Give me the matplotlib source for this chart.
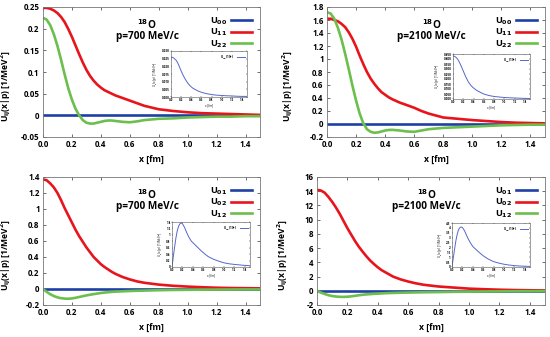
import numpy as np
import matplotlib
matplotlib.use('Agg')
import matplotlib.pyplot as plt

plt.rcParams['font.family'] = ['Open Sans', 'DejaVu Sans']
plt.rcParams['font.weight'] = 'bold'
plt.rcParams['mathtext.default'] = 'bf'

# ---- data ----
x = [0.0, 0.025, 0.05, 0.075, 0.1, 0.125, 0.15, 0.175, 0.2, 0.225, 0.25, 0.275, 0.3, 0.325, 0.35, 0.375,
     0.4, 0.425, 0.45, 0.475, 0.5, 0.55, 0.6, 0.65, 0.7, 0.8, 0.9, 1.0, 1.1, 1.2, 1.3, 1.4, 1.5]

# p=700 MeV/c, diagonal
u00_700 = [0.0] * 33
u11_700 = [0.248, 0.248, 0.246, 0.242, 0.236, 0.227, 0.215, 0.199, 0.181, 0.161, 0.141, 0.122, 0.105, 0.091, 0.080, 0.071,
           0.064, 0.058, 0.054, 0.050, 0.046, 0.040, 0.034, 0.028, 0.022, 0.014, 0.010, 0.007, 0.005, 0.004, 0.003, 0.002, 0.001]
u22_700 = [0.225, 0.221, 0.208, 0.187, 0.160, 0.128, 0.094, 0.062, 0.036, 0.015, 0.0, -0.011, -0.017, -0.019, -0.019, -0.017,
           -0.015, -0.013, -0.012, -0.012, -0.013, -0.015, -0.016, -0.014, -0.011, -0.008, -0.007, -0.005, -0.004, -0.003, -0.003, -0.002, -0.002]

# p=2100 MeV/c, diagonal
u00_2100 = [0.0] * 33
u11_2100 = [1.62, 1.62, 1.60, 1.58, 1.54, 1.49, 1.41, 1.31, 1.19, 1.05, 0.92, 0.80, 0.70, 0.62, 0.55, 0.49,
            0.45, 0.41, 0.38, 0.355, 0.33, 0.29, 0.25, 0.20, 0.16, 0.10, 0.08, 0.06, 0.045, 0.03, 0.02, 0.015, 0.01]
u22_2100 = [1.72, 1.70, 1.62, 1.48, 1.30, 1.08, 0.84, 0.59, 0.36, 0.16, 0.01, -0.08, -0.12, -0.135, -0.13, -0.115,
            -0.10, -0.092, -0.09, -0.095, -0.10, -0.115, -0.12, -0.10, -0.08, -0.06, -0.05, -0.04, -0.03, -0.02, -0.015, -0.01, -0.01]

# p=700 MeV/c, off-diagonal
u01_700 = [0.0] * 33
u02_700 = [1.37, 1.36, 1.32, 1.27, 1.20, 1.11, 1.01, 0.92, 0.83, 0.74, 0.66, 0.59, 0.52, 0.46, 0.40, 0.355,
           0.31, 0.275, 0.245, 0.215, 0.19, 0.15, 0.12, 0.095, 0.078, 0.055, 0.04, 0.03, 0.022, 0.016, 0.012, 0.01, 0.008]
u12_700 = [0.0, -0.035, -0.065, -0.088, -0.105, -0.115, -0.12, -0.122, -0.118, -0.11, -0.10, -0.09, -0.08, -0.072, -0.064, -0.057,
           -0.05, -0.045, -0.04, -0.036, -0.033, -0.029, -0.025, -0.022, -0.02, -0.015, -0.012, -0.01, -0.008, -0.007, -0.006, -0.005, -0.005]

# p=2100 MeV/c, off-diagonal
u01_2100 = [0.0] * 33
u02_2100 = [14.2, 14.1, 13.8, 13.2, 12.5, 11.7, 10.8, 9.8, 8.8, 7.9, 7.0, 6.2, 5.5, 4.85, 4.25, 3.75,
            3.3, 2.9, 2.6, 2.3, 2.0, 1.6, 1.3, 1.05, 0.85, 0.6, 0.45, 0.3, 0.22, 0.15, 0.1, 0.07, 0.05]
u12_2100 = [0.0, -0.25, -0.45, -0.62, -0.74, -0.81, -0.85, -0.86, -0.84, -0.78, -0.71, -0.63, -0.56, -0.51, -0.47, -0.43,
            -0.40, -0.37, -0.34, -0.32, -0.30, -0.27, -0.25, -0.23, -0.21, -0.18, -0.15, -0.12, -0.1, -0.08, -0.07, -0.06, -0.05]

# insets (blue curves, magnified)
in1 = [0.026, 0.0259, 0.0255, 0.0248, 0.024, 0.0227, 0.021, 0.019, 0.017, 0.0152, 0.0135, 0.012, 0.0106, 0.0094, 0.0083, 0.0074,
       0.0066, 0.0059, 0.0054, 0.0049, 0.0045, 0.0037, 0.0031, 0.0026, 0.0022, 0.0016, 0.0012, 0.001, 0.0008, 0.0007, 0.0005, 0.0004, 0.0004]
in2 = [0.43, 0.428, 0.42, 0.408, 0.39, 0.367, 0.34, 0.31, 0.28, 0.25, 0.22, 0.195, 0.17, 0.152, 0.135, 0.122,
       0.11, 0.1, 0.09, 0.082, 0.075, 0.062, 0.05, 0.042, 0.035, 0.025, 0.02, 0.015, 0.012, 0.01, 0.008, 0.006, 0.005]
in3 = [0.0, 0.32, 0.62, 0.9, 1.12, 1.26, 1.34, 1.37, 1.35, 1.28, 1.2, 1.1, 1.01, 0.93, 0.86, 0.80,
       0.76, 0.72, 0.68, 0.64, 0.60, 0.52, 0.45, 0.38, 0.32, 0.24, 0.18, 0.13, 0.1, 0.08, 0.065, 0.05, 0.04]
in4 = [0.0, 0.95, 1.85, 2.7, 3.35, 3.8, 4.02, 4.1, 4.03, 3.85, 3.6, 3.3, 3.0, 2.75, 2.5, 2.3,
       2.1, 1.97, 1.85, 1.72, 1.6, 1.37, 1.15, 0.97, 0.8, 0.55, 0.4, 0.28, 0.2, 0.14, 0.1, 0.08, 0.06]

blue = '#1f3fa8'
red = '#e8141c'
green = '#6cbf4c'
inblue = '#5566cc'

W, H = 550., 337.
fig = plt.figure(figsize=(5.5, 3.37), dpi=100)

def box(l, r, t, b):
    return [l / W, 1 - b / H, (r - l) / W, (b - t) / H]

def fmt(v, pos=None):
    s = ('%.2f' % v).rstrip('0').rstrip('.')
    return '0' if s in ('-0', '0') else s

panels = [
    (box(43, 260, 7, 137), [u00_700, u11_700, u22_700], ['U$_{00}$', 'U$_{11}$', 'U$_{22}$'],
     'p=700 MeV/c', (-0.05, 0.25), np.arange(-0.05, 0.26, 0.05), 13,
     box(171, 247, 51, 97), in1, (0, 0.03), np.arange(0, 0.031, 0.005)),
    (box(327, 545, 7, 137), [u00_2100, u11_2100, u22_2100], ['U$_{00}$', 'U$_{11}$', 'U$_{22}$'],
     'p=2100 MeV/c', (-0.2, 1.8), np.arange(-0.2, 1.81, 0.2), 295,
     box(453, 530, 54, 99), in2, (0, 0.45), np.arange(0, 0.46, 0.05)),
    (box(43, 260, 177, 305), [u01_700, u02_700, u12_700], ['U$_{01}$', 'U$_{02}$', 'U$_{12}$'],
     'p=700 MeV/c', (-0.2, 1.4), np.arange(-0.2, 1.41, 0.2), 13,
     box(172, 250, 222, 267), in3, (0, 1.4), np.arange(0, 1.41, 0.2)),
    (box(317, 545, 177, 305), [u01_2100, u02_2100, u12_2100], ['U$_{01}$', 'U$_{02}$', 'U$_{12}$'],
     'p=2100 MeV/c', (-2, 16), np.arange(-2, 16.1, 2), 290,
     box(452, 530, 223, 267), in4, (0, 4.5), np.arange(0, 4.51, 0.5)),
]

for (pos, ys, labs, ptxt, ylim, yt, ylx, ipos, iy, iylim, iyt) in panels:
    ax = fig.add_axes(pos)
    for y, c, lab in zip(ys, [blue, red, green], labs):
        ax.plot(x, y, color=c, lw=1.9, label=lab, solid_joinstyle='round')
    ax.set_xlim(0, 1.5)
    ax.set_ylim(*ylim)
    ax.set_xticks(np.arange(0, 1.41, 0.2))
    ax.set_xticklabels(['%.1f' % v for v in np.arange(0, 1.41, 0.2)])
    ax.set_yticks(yt)
    ax.set_yticklabels([fmt(v) for v in yt])
    ax.tick_params(direction='in', length=2.5, width=0.6, labelsize=5.7, pad=2.5,
                   top=True, right=True, color='#555555')
    for sp in ax.spines.values():
        sp.set_linewidth(0.6)
        sp.set_color('#777777')
    ax.set_xlabel('x [fm]', fontsize=6.2, fontweight='bold', labelpad=4)
    ax.set_ylabel('U$_{ij}$(x|p) [1/MeV$^2$]', fontsize=6.1, fontweight='bold')
    ax.yaxis.set_label_coords((ylx - pos[0] * W) / (pos[2] * W), 0.39)
    ax.text(0.48, 0.86, '$^{18}$O', transform=ax.transAxes, ha='center', va='center',
            fontsize=7.2, fontweight='bold')
    ax.text(0.48, 0.77, ptxt, transform=ax.transAxes, ha='center', va='center',
            fontsize=7.2, fontweight='bold')
    leg = ax.legend(loc='upper right', fontsize=6.6, frameon=False, handlelength=2.3,
                    handletextpad=0.4, labelspacing=0.0, borderaxespad=0.5,
                    markerfirst=False)
    for t in leg.get_texts():
        t.set_fontweight('bold')

    ia = fig.add_axes(ipos)
    ia.plot(x, iy, color=inblue, lw=0.7, label='U$_{00}$(10$^3$)')
    ia.set_xlim(0, 1.5)
    ia.set_ylim(*iylim)
    ia.set_xticks(np.arange(0, 1.41, 0.2))
    ia.set_xticklabels(['%.1f' % v for v in np.arange(0, 1.41, 0.2)])
    ia.set_yticks(iyt)
    ia.set_yticklabels([fmt(v) if iylim[1] > 1 else ('%.3f' % v) for v in iyt])
    ia.tick_params(direction='in', length=1, width=0.3, labelsize=2.2, pad=1,
                   top=True, right=True)
    for sp in ia.spines.values():
        sp.set_linewidth(0.4)
        sp.set_color('#555555')
    ia.set_xlabel('x [fm]', fontsize=2.2, labelpad=1)
    ia.set_ylabel('U$_{ij}$(x|p) [1/MeV$^2$]', fontsize=2.2, labelpad=1)
    il = ia.legend(loc='upper right', fontsize=2.2, frameon=False, handlelength=2.5,
                   markerfirst=False, borderaxespad=0.3)

fig.savefig('out.png', dpi=100)
